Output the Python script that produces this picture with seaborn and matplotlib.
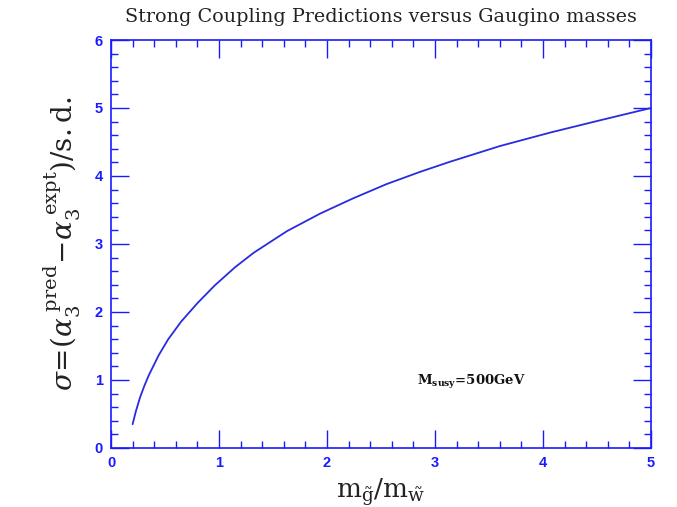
import matplotlib
matplotlib.use("Agg")
import matplotlib.pyplot as plt
import seaborn as sns
import pandas as pd
from matplotlib.ticker import MultipleLocator

mass_ratio = [0.2, 0.23, 0.27, 0.31, 0.35, 0.44, 0.53, 0.65, 0.8, 0.96, 1.15, 1.32,
              1.63, 1.94, 2.24, 2.55, 2.86, 3.14, 3.6, 4.07, 4.53, 5.0]
sigma = [0.35, 0.54, 0.75, 0.92, 1.07, 1.36, 1.60, 1.86, 2.13, 2.39, 2.66, 2.87,
         3.19, 3.45, 3.67, 3.88, 4.06, 4.21, 4.44, 4.64, 4.82, 5.00]
x_ticks = [0, 1, 2, 3, 4, 5]
y_ticks = [0, 1, 2, 3, 4, 5, 6]

sns.set_theme(style="white")
plt.rcParams['mathtext.fontset'] = 'dejavuserif'
blue = '#1a1aff'
line_blue = '#2a2ae0'

df = pd.DataFrame({"ratio": mass_ratio, "sigma": sigma})

fig = plt.figure(figsize=(6.77, 5.07), dpi=100)
ax = fig.add_axes([0.164, 0.1164, 0.7976, 0.8047])
sns.lineplot(data=df, x="ratio", y="sigma", ax=ax, color=line_blue, linewidth=1.3)

ax.set_xlim(0, 5)
ax.set_ylim(0, 6)
ax.set_xticks(x_ticks)
ax.set_yticks(y_ticks)
ax.xaxis.set_minor_locator(MultipleLocator(0.2))
ax.yaxis.set_minor_locator(MultipleLocator(0.2))
ax.tick_params(which='both', direction='in', top=True, right=True, bottom=True,
               left=True, color=blue, labelcolor=blue, width=1.0)
ax.tick_params(which='major', length=13, pad=6)
ax.tick_params(which='minor', length=5)
for lab in ax.get_xticklabels() + ax.get_yticklabels():
    lab.set_fontfamily('Liberation Sans')
    lab.set_fontweight('bold')
    lab.set_fontsize(10.5)
for sp in ax.spines.values():
    sp.set_color(blue)
    sp.set_linewidth(1.2)

ax.set_xlabel(r'$\mathrm{m}_{\tilde{\mathrm{g}}}/\mathrm{m}_{\tilde{\mathrm{w}}}$',
              fontsize=19, color='#222222', labelpad=4)
ax.set_ylabel(r'$\sigma\!=\!(\alpha_3^{\;\mathrm{pred}}\!-\!\alpha_3^{\;\mathrm{expt}})/\mathrm{s.d.}$',
              fontsize=20, color='#222222', labelpad=8)
ax.set_title('Strong Coupling Predictions versus Gaugino masses',
             fontfamily='DejaVu Serif', fontsize=13.8, color='#222222', pad=13)
ax.text(3.34, 0.97, r'$\mathbf{M_{susy}}$=500GeV', fontfamily='DejaVu Serif',
        fontweight='bold', fontsize=9.5, ha='center', va='center', color='#111111')

fig.savefig("out.png", dpi=100)
